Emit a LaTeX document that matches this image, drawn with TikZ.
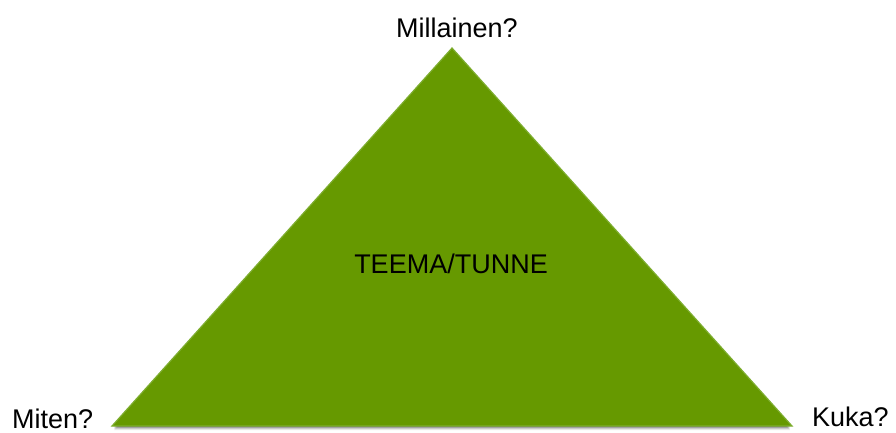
\documentclass[tikz,border=0pt]{standalone}
\usepackage{fontspec}
\setmainfont{Liberation Sans}
\usetikzlibrary{calc}
\definecolor{tri}{HTML}{669900}
\definecolor{triedge}{HTML}{7DAD2E}
\begin{document}
\begin{tikzpicture}[x=1pt,y=-1pt,
  lbl/.style={font=\fontsize{27}{30}\selectfont, inner sep=0pt, text=black}]
\useasboundingbox (0,0) rectangle (896,432);
\fill[white] (0,0) rectangle (896,432);
\coordinate (A) at (452,48);
\coordinate (B) at (112,426);
\coordinate (C) at (792,426);
% soft shadow
\foreach \d/\o in {4/0.08,3/0.12,2/0.18,1/0.25}{
  \fill[black,opacity=\o] ($(B)+(2,\d)$) -- ($(C)+(-2,\d)$) -- ($(C)+(-8,-2)$) -- ($(B)+(8,-2)$) -- cycle;
}
\filldraw[fill=tri,draw=triedge,line width=1.2pt,line join=miter] (A) -- (B) -- (C) -- cycle;
\node[lbl,anchor=base] (top) at (457,37) {Millainen?};
\node[lbl,anchor=base] (mid) at (451,273) {TEEMA/TUNNE};
\node[lbl,anchor=base west] (left) at (12,428.5) {Miten?};
\node[lbl,anchor=base west] (right) at (812,426) {Kuka?};
\end{tikzpicture}
\end{document}
